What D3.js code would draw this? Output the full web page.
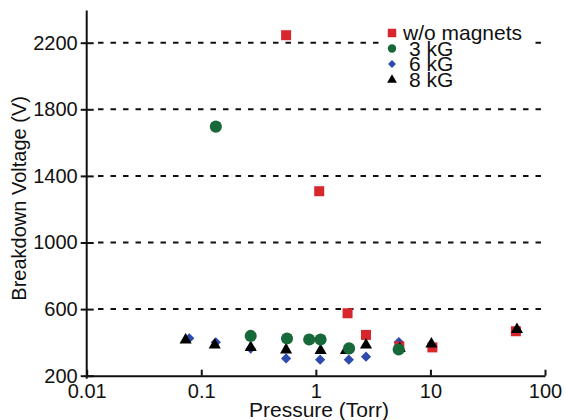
<!DOCTYPE html>
<html>
<head>
<meta charset="utf-8">
<script src="https://cdn.jsdelivr.net/npm/d3@7"></script>
<style>
  html, body { margin: 0; padding: 0; background: #fff; }
  svg { display: block; font-family: "Liberation Sans", Arial, sans-serif; }
</style>
</head>
<body>
<svg id="chart" width="566" height="420"></svg>
<script>
// ---- data ----
const seriesNames = ["w/o magnets", "3 kG", "6 kG", "8 kG"];
const woPressure = [0.55, 1.07, 1.89, 2.74, 5.35, 10.4, 55.7];
const woVoltage  = [2245, 1308, 575, 445, 376, 370, 467];
const g3Pressure = [0.134, 0.27, 0.56, 0.875, 1.10, 1.95, 5.28];
const g3Voltage  = [1696, 439, 423, 417, 417, 364, 357];
const g6Pressure = [0.0786, 0.134, 0.27, 0.55, 1.09, 1.94, 2.74, 5.3];
const g6Voltage  = [425, 401, 363, 304, 296, 296, 314, 402];
const g8Pressure = [0.073, 0.131, 0.27, 0.55, 1.10, 1.83, 2.74, 5.4, 10.2, 56.9];
const g8Voltage  = [415, 385, 370, 355, 351, 351, 385, 364, 391, 477];
const xTicks = [0.01, 0.1, 1, 10, 100];
const xTickLabels = ["0.01", "0.1", "1", "10", "100"];
const yTicks = [200, 600, 1000, 1400, 1800, 2200];
const gridValues = [600, 1000, 1400, 1800, 2200];

const svg = d3.select("#chart");
const x = d3.scaleLog().domain([0.01, 100]).range([86.7, 545]);
const y = d3.scaleLinear().domain([200, 2200]).range([375.7, 42.7]);

// gridlines
svg.append("g").selectAll("line").data(gridValues).join("line")
  .attr("x1", 98).attr("x2", 541)
  .attr("y1", d => y(d)).attr("y2", d => y(d))
  .attr("stroke", "#111").attr("stroke-width", 2)
  .attr("stroke-dasharray", "5.5,7");

// legend background
const legend = svg.append("g");
legend.append("rect").attr("x", 384).attr("y", 24).attr("width", 148).attr("height", 66).attr("fill", "#fff");

// axes
const xAxis = d3.axisBottom(x).tickValues(xTicks).tickFormat((d, i) => xTickLabels[i])
  .tickSizeInner(-6).tickSizeOuter(0).tickPadding(8);
const gx = svg.append("g").attr("transform", `translate(0,${y(200)})`).call(xAxis);
gx.select(".domain").attr("stroke-width", 2).attr("stroke", "#111");
gx.selectAll(".tick line").attr("stroke-width", 2).attr("stroke", "#111");
gx.selectAll(".tick text").attr("font-size", 20).attr("fill", "#111").attr("dy", "0.71em");

const yAxis = d3.axisLeft(y).tickValues(yTicks).tickFormat(d3.format("d"))
  .tickSizeInner(6).tickSizeOuter(0).tickPadding(3);
const gy = svg.append("g").attr("transform", `translate(${x(0.01)},0)`).call(yAxis);
gy.select(".domain").attr("stroke-width", 2).attr("stroke", "#111")
  .attr("d", `M0,${y(200) + 3}V${y(2400) + 1}`);
gy.selectAll(".tick line").attr("stroke-width", 2).attr("stroke", "#111").attr("x2", 7).attr("x1", -6);
gy.selectAll(".tick text").attr("font-size", 20).attr("fill", "#111").attr("x", -9);

// axis titles
svg.append("text").attr("x", 319).attr("y", 417).attr("text-anchor", "middle")
  .attr("font-size", 21).attr("fill", "#111").text("Pressure (Torr)");
svg.append("text").attr("transform", `translate(26,${y(1265)}) rotate(-90)`)
  .attr("text-anchor", "middle").attr("font-size", 20).attr("fill", "#111")
  .text("Breakdown Voltage (V)");

// markers
const colors = ["#d8262d", "#17693a", "#2d4aaf", "#000000"];
const diamond = { draw(ctx, size) { const r = Math.sqrt(size / 2); ctx.moveTo(0, -r); ctx.lineTo(r, 0); ctx.lineTo(0, r); ctx.lineTo(-r, 0); ctx.closePath(); } };
const symbols = [d3.symbolSquare, d3.symbolCircle, diamond, d3.symbolTriangle];
const sizes = [100, 115, 52, 64];
const series = [
  {p: woPressure, v: woVoltage},
  {p: g3Pressure, v: g3Voltage},
  {p: g6Pressure, v: g6Voltage},
  {p: g8Pressure, v: g8Voltage}
];
const order = [2, 0, 3, 1];
order.forEach(si => {
  const s = series[si];
  const pts = s.p.map((p, i) => ({p, v: s.v[i]}));
  svg.append("g").selectAll("path").data(pts).join("path")
    .attr("transform", d => `translate(${x(d.p)},${y(d.v)})`)
    .attr("d", d3.symbol().type(symbols[si]).size(sizes[si]))
    .attr("fill", colors[si]);
});

// legend entries
const legendRows = [33, 48.5, 64, 80];
const legendSizes = [72, 55, 32, 42];
seriesNames.forEach((name, i) => {
  legend.append("path")
    .attr("transform", `translate(392,${legendRows[i]})`)
    .attr("d", d3.symbol().type(symbols[i]).size(legendSizes[i]))
    .attr("fill", colors[i]);
  legend.append("text").attr("x", i === 0 ? 403 : 409).attr("y", legendRows[i] + 7)
    .attr("font-size", 21).attr("fill", "#111").text(name);
});
</script>
</body>
</html>
